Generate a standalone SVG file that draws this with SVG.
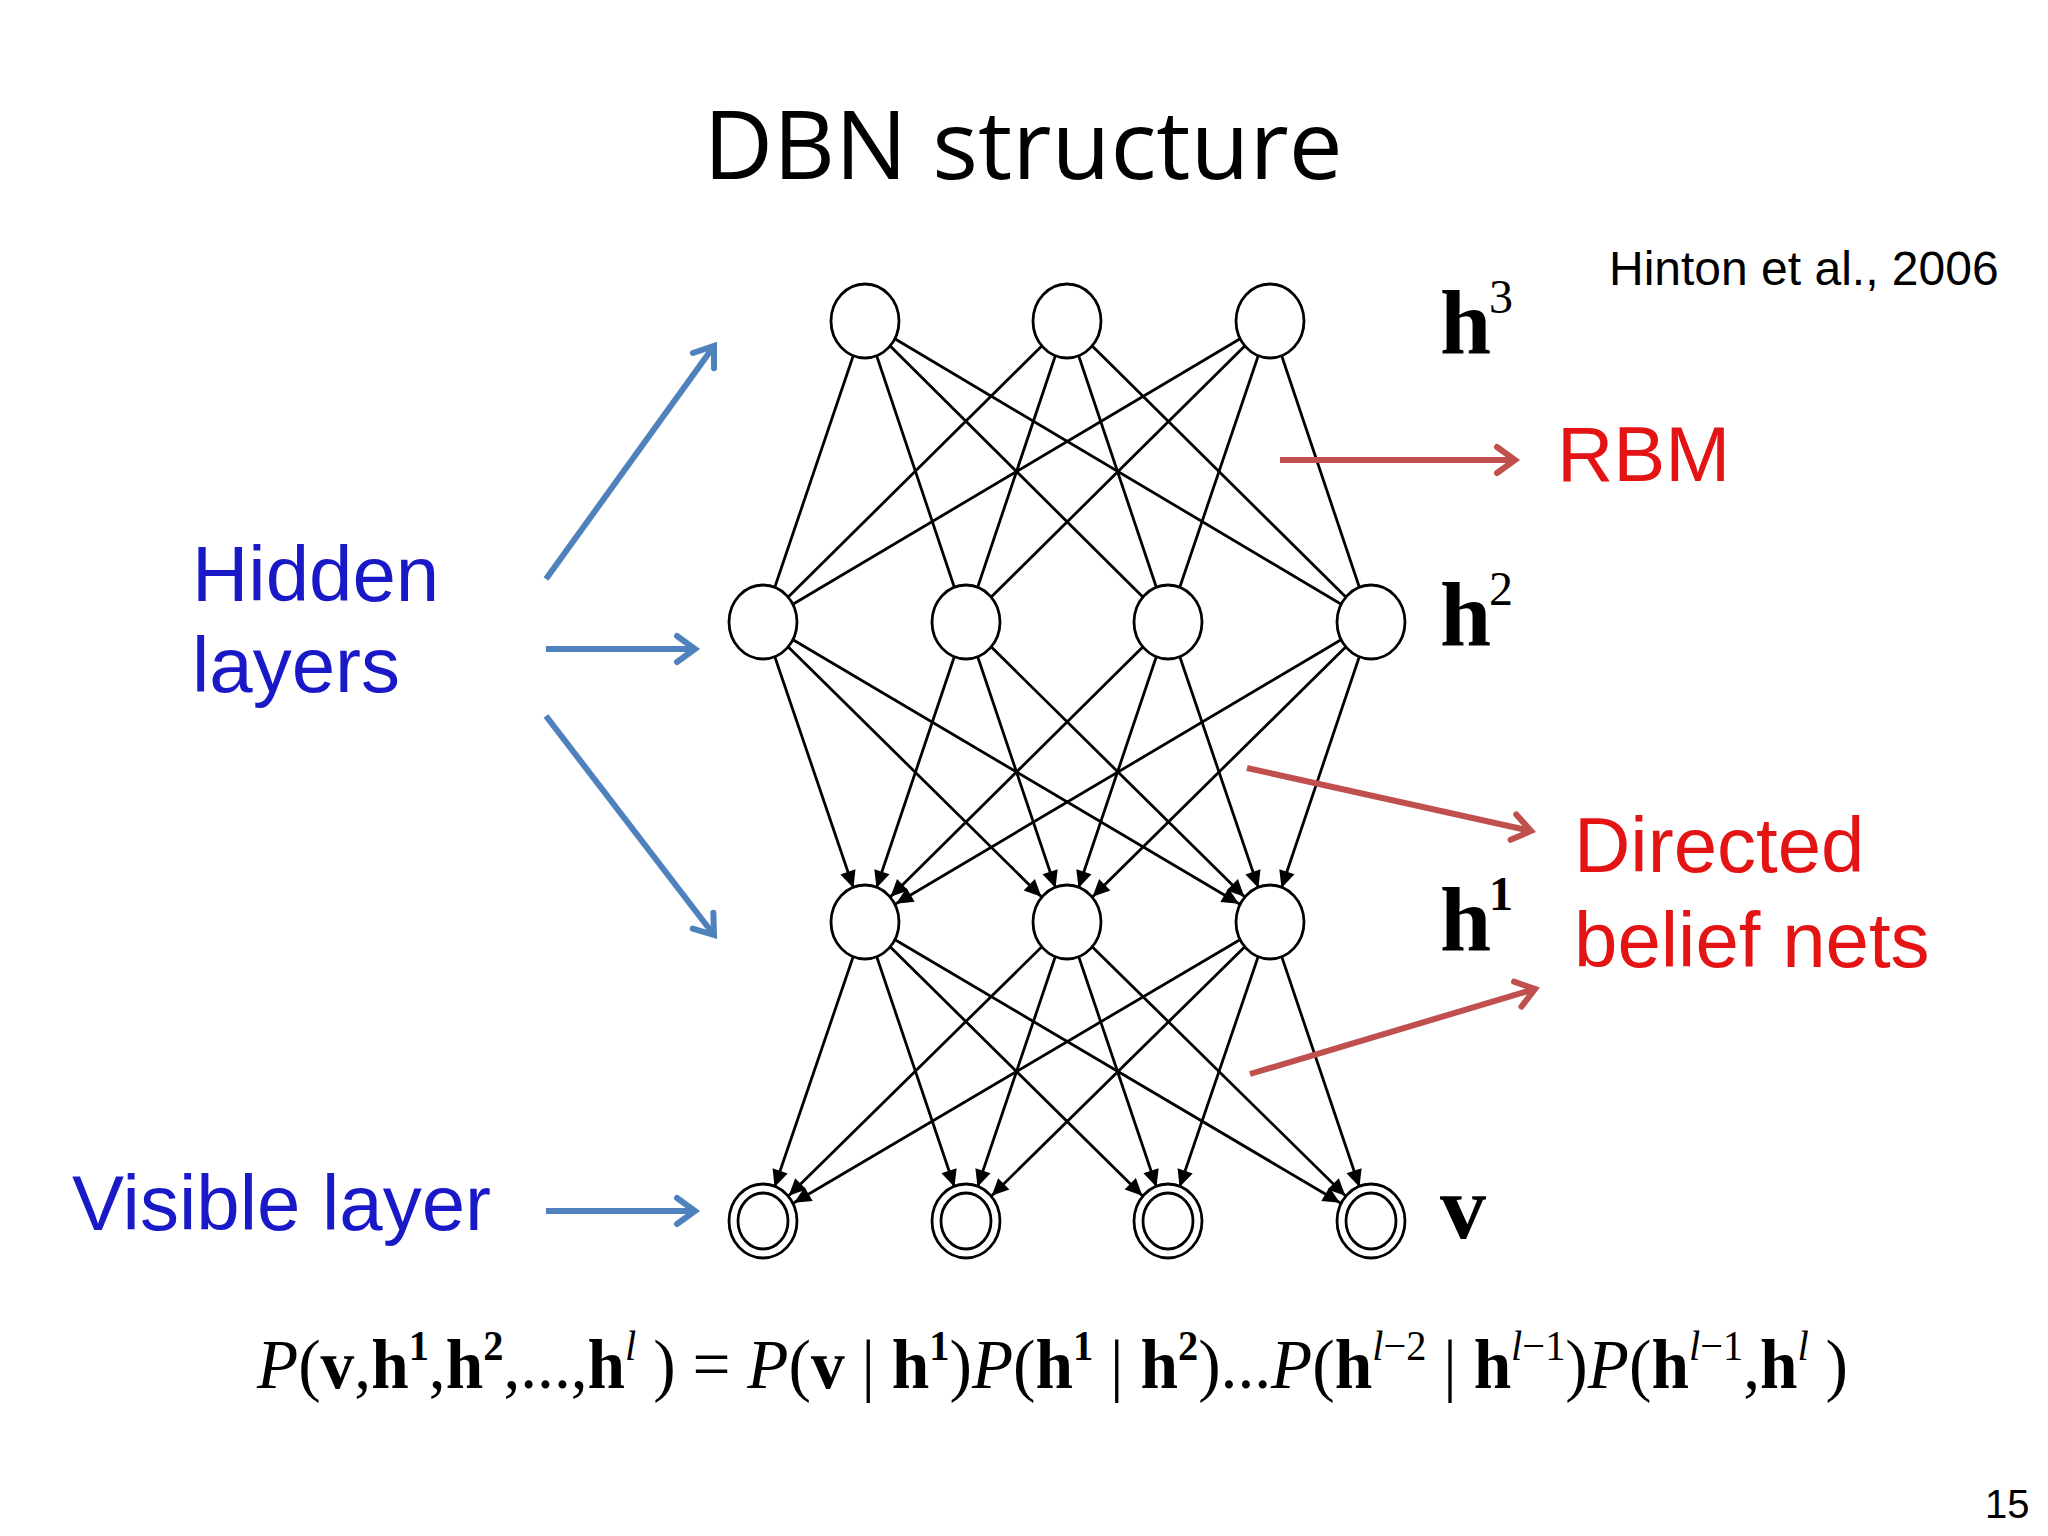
<svg xmlns="http://www.w3.org/2000/svg" width="2048" height="1536" viewBox="0 0 2048 1536">
<style>
.e{stroke:#000;stroke-width:2.8;fill:none}
.d{marker-end:url(#ah)}
.n{fill:#fff;stroke:#000;stroke-width:2.8}
.hl{font-family:"Liberation Serif",serif;font-weight:bold;font-size:92px}
.sup{font-family:"Liberation Serif",serif;font-size:48px}
.blue{fill:#1919c8;font-family:"Liberation Sans",Arial,sans-serif;font-size:78px}
.red{fill:#e41414;font-family:"Liberation Sans",Arial,sans-serif;font-size:78px}
.ba{stroke:#4f81bd;stroke-width:6;fill:none;marker-end:url(#ob)}
.ra{stroke:#c0504d;stroke-width:6;fill:none;marker-end:url(#or)}
</style>
<defs>
<marker id="ah" markerUnits="userSpaceOnUse" viewBox="-60 -10 80 20" refX="0" refY="0" markerWidth="80" markerHeight="20" orient="auto" overflow="visible">
<path d="M-36 0 L-53 -8 L-53 8 Z" fill="#000"/>
</marker>
<marker id="ob" markerUnits="userSpaceOnUse" viewBox="-30 -20 40 40" refX="0" refY="0" markerWidth="40" markerHeight="40" orient="auto" overflow="visible">
<path d="M-18 -13 L0 0 L-18 13" fill="none" stroke="#4f81bd" stroke-width="6" stroke-linecap="round"/>
</marker>
<marker id="or" markerUnits="userSpaceOnUse" viewBox="-30 -20 40 40" refX="0" refY="0" markerWidth="40" markerHeight="40" orient="auto" overflow="visible">
<path d="M-18 -13 L0 0 L-18 13" fill="none" stroke="#c0504d" stroke-width="6" stroke-linecap="round"/>
</marker>
</defs>
<rect width="2048" height="1536" fill="#fff"/>
<text x="1023" y="179" text-anchor="middle" font-family="'Open Sans',sans-serif" font-size="96">DBN structure</text>
<text x="1609" y="285" font-family="'Liberation Sans',Arial,sans-serif" font-size="48">Hinton et al., 2006</text>
<g id="connectors">
<line class="e" x1="865" y1="321" x2="763" y2="622"/><line class="e" x1="865" y1="321" x2="966" y2="622"/><line class="e" x1="865" y1="321" x2="1168" y2="622"/><line class="e" x1="865" y1="321" x2="1371" y2="622"/>
<line class="e" x1="1067" y1="321" x2="763" y2="622"/><line class="e" x1="1067" y1="321" x2="966" y2="622"/><line class="e" x1="1067" y1="321" x2="1168" y2="622"/><line class="e" x1="1067" y1="321" x2="1371" y2="622"/>
<line class="e" x1="1270" y1="321" x2="763" y2="622"/><line class="e" x1="1270" y1="321" x2="966" y2="622"/><line class="e" x1="1270" y1="321" x2="1168" y2="622"/><line class="e" x1="1270" y1="321" x2="1371" y2="622"/>
<line class="e d" x1="763" y1="622" x2="865" y2="922"/><line class="e d" x1="763" y1="622" x2="1067" y2="922"/><line class="e d" x1="763" y1="622" x2="1270" y2="922"/>
<line class="e d" x1="966" y1="622" x2="865" y2="922"/><line class="e d" x1="966" y1="622" x2="1067" y2="922"/><line class="e d" x1="966" y1="622" x2="1270" y2="922"/>
<line class="e d" x1="1168" y1="622" x2="865" y2="922"/><line class="e d" x1="1168" y1="622" x2="1067" y2="922"/><line class="e d" x1="1168" y1="622" x2="1270" y2="922"/>
<line class="e d" x1="1371" y1="622" x2="865" y2="922"/><line class="e d" x1="1371" y1="622" x2="1067" y2="922"/><line class="e d" x1="1371" y1="622" x2="1270" y2="922"/>
<line class="e d" x1="865" y1="922" x2="763" y2="1221"/><line class="e d" x1="865" y1="922" x2="966" y2="1221"/><line class="e d" x1="865" y1="922" x2="1168" y2="1221"/><line class="e d" x1="865" y1="922" x2="1371" y2="1221"/>
<line class="e d" x1="1067" y1="922" x2="763" y2="1221"/><line class="e d" x1="1067" y1="922" x2="966" y2="1221"/><line class="e d" x1="1067" y1="922" x2="1168" y2="1221"/><line class="e d" x1="1067" y1="922" x2="1371" y2="1221"/>
<line class="e d" x1="1270" y1="922" x2="763" y2="1221"/><line class="e d" x1="1270" y1="922" x2="966" y2="1221"/><line class="e d" x1="1270" y1="922" x2="1168" y2="1221"/><line class="e d" x1="1270" y1="922" x2="1371" y2="1221"/>
<line class="ba" x1="546" y1="579" x2="714" y2="346"/>
<line class="ba" x1="546" y1="649" x2="695" y2="649"/>
<line class="ba" x1="546" y1="716" x2="714" y2="935"/>
<line class="ba" x1="546" y1="1211" x2="695" y2="1211"/>
<line class="ra" x1="1280" y1="460" x2="1515" y2="460"/>
<line class="ra" x1="1247" y1="768" x2="1531" y2="831"/>
<line class="ra" x1="1250" y1="1074" x2="1535" y2="989"/>
</g>
<g id="h3"><ellipse class="n" cx="865" cy="321" rx="34" ry="37"/><ellipse class="n" cx="1067" cy="321" rx="34" ry="37"/><ellipse class="n" cx="1270" cy="321" rx="34" ry="37"/></g>
<g id="h2"><ellipse class="n" cx="763" cy="622" rx="34" ry="37"/><ellipse class="n" cx="966" cy="622" rx="34" ry="37"/><ellipse class="n" cx="1168" cy="622" rx="34" ry="37"/><ellipse class="n" cx="1371" cy="622" rx="34" ry="37"/></g>
<g id="h1"><ellipse class="n" cx="865" cy="922" rx="34" ry="37"/><ellipse class="n" cx="1067" cy="922" rx="34" ry="37"/><ellipse class="n" cx="1270" cy="922" rx="34" ry="37"/></g>
<g id="v">
<ellipse class="n" cx="763" cy="1221" rx="34" ry="37"/><ellipse class="n" cx="763" cy="1221" rx="25" ry="28"/>
<ellipse class="n" cx="966" cy="1221" rx="34" ry="37"/><ellipse class="n" cx="966" cy="1221" rx="25" ry="28"/>
<ellipse class="n" cx="1168" cy="1221" rx="34" ry="37"/><ellipse class="n" cx="1168" cy="1221" rx="25" ry="28"/>
<ellipse class="n" cx="1371" cy="1221" rx="34" ry="37"/><ellipse class="n" cx="1371" cy="1221" rx="25" ry="28"/>
</g>
<text class="hl" x="1440" y="353">h</text><text class="sup" x="1489" y="313">3</text>
<text class="hl" x="1440" y="645">h</text><text class="sup" x="1489" y="605">2</text>
<text class="hl" x="1440" y="950">h</text><text class="sup" x="1489" y="910" font-weight="bold">1</text>
<text class="hl" x="1440" y="1238">v</text>
<text class="red" x="1557" y="481">RBM</text>
<text class="red" x="1574" y="872">Directed</text>
<text class="red" x="1574" y="967">belief nets</text>
<text class="blue" x="192" y="601">Hidden</text>
<text class="blue" x="192" y="692">layers</text>
<text class="blue" x="72" y="1230">Visible layer</text>
<text x="257" y="1388" font-family="'Liberation Serif',serif" font-size="70" textLength="1591" lengthAdjust="spacingAndGlyphs"><tspan font-style="italic">P</tspan>(<tspan font-weight="bold">v</tspan>,<tspan font-weight="bold">h</tspan><tspan font-weight="bold" font-size="42" dy="-28">1</tspan><tspan dy="28">,</tspan><tspan font-weight="bold">h</tspan><tspan font-weight="bold" font-size="42" dy="-28">2</tspan><tspan dy="28">,...,</tspan><tspan font-weight="bold">h</tspan><tspan font-style="italic" font-size="42" dy="-28">l</tspan><tspan dy="28"> ) = </tspan><tspan font-style="italic">P</tspan>(<tspan font-weight="bold">v</tspan> | <tspan font-weight="bold">h</tspan><tspan font-weight="bold" font-size="42" dy="-28">1</tspan><tspan dy="28">)</tspan><tspan font-style="italic">P</tspan>(<tspan font-weight="bold">h</tspan><tspan font-weight="bold" font-size="42" dy="-28">1</tspan><tspan dy="28"> | </tspan><tspan font-weight="bold">h</tspan><tspan font-weight="bold" font-size="42" dy="-28">2</tspan><tspan dy="28">)...</tspan><tspan font-style="italic">P</tspan>(<tspan font-weight="bold">h</tspan><tspan font-style="italic" font-size="42" dy="-28">l</tspan><tspan font-size="42">−2</tspan><tspan dy="28"> | </tspan><tspan font-weight="bold">h</tspan><tspan font-style="italic" font-size="42" dy="-28">l</tspan><tspan font-size="42">−1</tspan><tspan dy="28">)</tspan><tspan font-style="italic">P</tspan>(<tspan font-weight="bold">h</tspan><tspan font-style="italic" font-size="42" dy="-28">l</tspan><tspan font-size="42">−1</tspan><tspan dy="28">,</tspan><tspan font-weight="bold">h</tspan><tspan font-style="italic" font-size="42" dy="-28">l</tspan><tspan dy="28"> )</tspan></text>
<text x="1985" y="1518" font-family="'Liberation Sans',Arial,sans-serif" font-size="40">15</text>
</svg>
